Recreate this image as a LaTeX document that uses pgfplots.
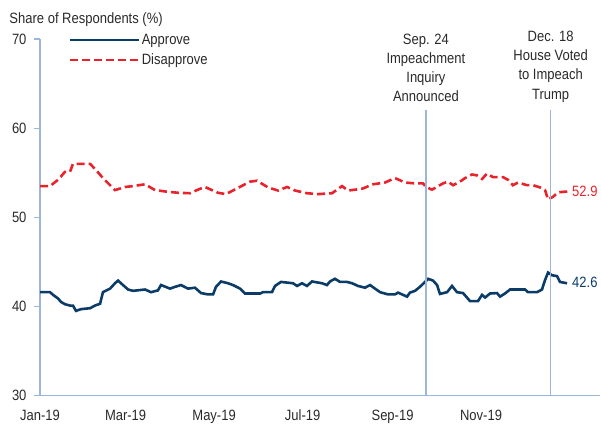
\documentclass[border=0pt]{standalone}
\usepackage{pgfplots}
\pgfplotsset{compat=1.18}
\usepackage{fontspec}
\setmainfont{Liberation Sans}[FakeStretch=0.87]
\definecolor{navy}{HTML}{0B3C68}
\definecolor{redd}{HTML}{E8232B}
\definecolor{axblue}{HTML}{9AB6DB}
\definecolor{txt}{HTML}{2A2A2A}
\begin{document}
\begin{tikzpicture}
\begin{axis}[
  name=ax,
  scale only axis,
  width=560bp, height=356.6bp,
  xmin=0, xmax=386, ymin=30, ymax=70,
  axis x line*=bottom, axis y line*=left,
  axis line style={axblue, line width=1.2bp},
  xtick={0,59,120,181,243,304},
  xticklabels={Jan-19,Mar-19,May-19,Jul-19,Sep-19,Nov-19},
  ytick={30,40,50,60,70},
  x tick style={draw=none},
  y tick style={axblue, line width=1.2bp},
  tick align=outside,
  major tick length=6bp,
  /pgf/number format/assume math mode=true,
  font=\fontsize{15}{18}\selectfont,
  tick label style={text=txt},
  xticklabel style={yshift=-5bp},
  yticklabel style={xshift=-4bp},
  clip=false,
  legend style={draw=none, fill=none, inner sep=0pt, at={(axis description cs:0.05,1.02)}, anchor=north west,
    nodes={inner sep=2bp, text=txt}, row sep=4bp, font=\fontsize{15}{18}\selectfont},
  legend cell align=left,
  legend image code/.code={\draw[#1] (0bp,0bp) -- (69bp,0bp);},
]
\addplot[navy, line width=2.6bp] coordinates {
(0,41.6)(6.9,41.6)(9.0,41.3)(12.4,40.9)(14.5,40.5)(17.2,40.25)(20.7,40.1)(22.7,40.1)(24.8,39.5)(28.3,39.7)(34.5,39.8)(37.9,40.1)(41.4,40.3)(43.4,41.6)(48.3,42.0)(51.7,42.6)(53.8,42.9)(57.2,42.4)(60.7,41.9)(64.1,41.75)(72.4,41.9)(76.5,41.6)(81.3,41.8)(83.4,42.4)(89.6,42.0)(93.1,42.2)(97.2,42.4)(102.0,42.0)(106.8,42.1)(111.0,41.5)(115.8,41.35)(119.3,41.35)(121.3,42.2)(124.8,42.8)(129.6,42.6)(133.0,42.4)(137.9,42.0)(141.3,41.45)(151.7,41.45)(153.7,41.6)(159.9,41.6)(162.0,42.3)(166.1,42.75)(174.4,42.6)(177.2,42.3)(180.6,42.6)(184.0,42.3)(187.5,42.8)(194.4,42.6)(197.8,42.4)(199.9,42.8)(203.3,43.1)(206.8,42.75)(211.6,42.75)(215.1,42.6)(219.2,42.3)(224.0,42.1)(227.5,42.4)(230.9,42.0)(234.4,41.6)(239.9,41.35)(244.7,41.35)(246.8,41.55)(253.0,41.1)(255.0,41.55)(258.5,41.75)(261.9,42.2)(265.4,42.75)(267.5,43.1)(270.9,42.9)(273.7,42.4)(275.7,41.4)(280.6,41.6)(284.0,42.3)(287.4,41.6)(291.6,41.5)(296.4,40.6)(301.9,40.6)(304.7,41.3)(306.8,41.0)(310.2,41.45)(315.0,41.5)(317.1,41.1)(320.5,41.45)(324.0,41.9)(334.3,41.9)(336.4,41.6)(342.6,41.6)(346.0,41.9)(348.1,42.95)(350.2,43.8)(352.9,43.5)(356.4,43.4)(358.4,42.75)(363.3,42.6)
};
\addlegendentry{Approve}
\addplot[redd, line width=2.6bp, dash pattern=on 8bp off 4bp] coordinates {
(0,53.5)(6.9,53.5)(12.4,54.2)(17.2,55.1)(20.7,55.1)(22.7,56.0)(26.2,56.0)(29.6,56.0)(34.5,56.0)(38.6,55.3)(43.4,54.4)(51.7,53.05)(58.6,53.4)(64.1,53.5)(72.4,53.7)(79.3,53.05)(86.2,52.9)(95.1,52.75)(103.4,52.7)(108.9,53.1)(113.7,53.4)(122.7,52.75)(128.2,52.6)(136.5,53.3)(144.8,54.0)(149.6,54.1)(157.2,53.35)(164.1,53.0)(170.3,53.4)(175.8,53.0)(184.0,52.7)(191.6,52.6)(201.3,52.7)(208.2,53.5)(212.3,53.0)(222.0,53.2)(229.5,53.7)(237.8,53.9)(244.7,54.4)(251.6,53.9)(258.5,53.8)(264.0,53.8)(266.1,53.4)(270.2,53.1)(277.8,53.8)(281.2,54.0)(284.7,53.6)(289.5,54.0)(293.0,54.4)(297.8,54.8)(301.2,54.7)(304.7,54.3)(308.1,54.9)(312.3,54.5)(319.2,54.5)(322.6,54.2)(326.0,53.6)(329.5,53.9)(335.7,53.6)(339.8,53.6)(344.7,53.35)(348.1,53.05)(350.2,52.0)(353.6,52.3)(357.1,52.8)(364.0,52.9)
};
\addlegendentry{Disapprove}
\draw[axblue, line width=1.2bp] (axis cs:266,30) -- (axis cs:266,62);
\draw[axblue, line width=1.2bp] (axis cs:352,30) -- (axis cs:352,62);
\node[anchor=south, align=center, inner sep=0pt, yshift=8bp, text=txt, font=\fontsize{15}{19.3}\selectfont] at (axis cs:266,62) {Sep. 24\\Impeachment\\Inquiry\\Announced};
\node[anchor=south, align=center, inner sep=0pt, yshift=8bp, text=txt, font=\fontsize{15}{19.3}\selectfont] at (axis cs:352,62) {Dec. 18\\House Voted\\to Impeach\\Trump};
\node[anchor=west, inner sep=0pt, text=redd] at (axis cs:366.7,52.9) {52.9};
\node[anchor=west, inner sep=0pt, text=navy] at (axis cs:366.7,42.7) {42.6};
\node[anchor=base west, inner sep=0pt, text=txt] at ([shift={(-30.7bp,15.7bp)}]rel axis cs:0,1) {Share of Respondents (\%)};
\end{axis}
\path ([shift={(-40bp,-27.4bp)}]ax.south west) rectangle ([shift={(1bp,39bp)}]ax.north east);
\end{tikzpicture}
\end{document}
